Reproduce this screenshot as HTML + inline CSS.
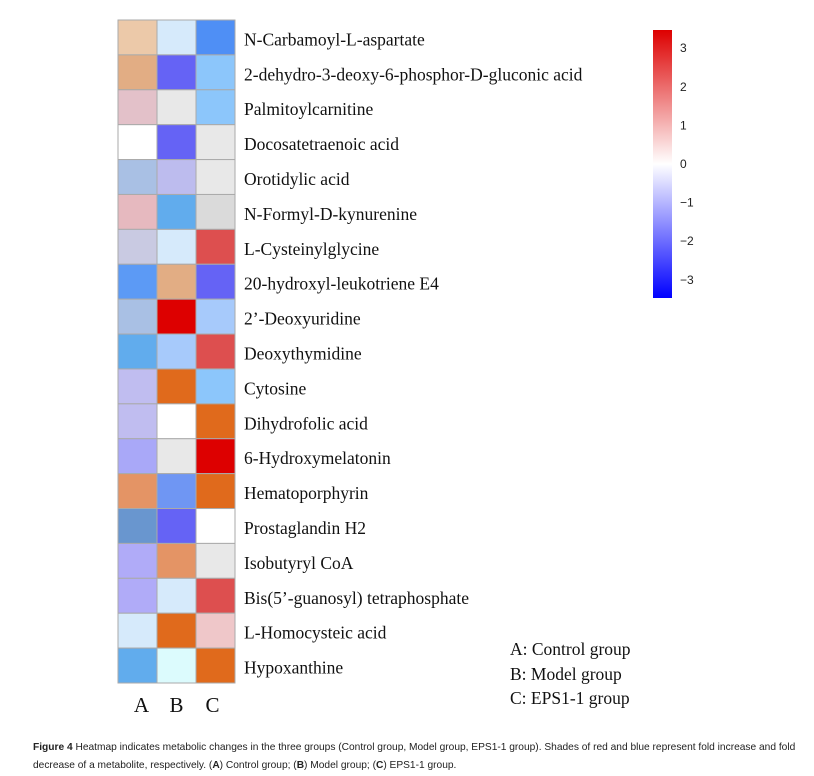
<!DOCTYPE html>
<html><head><meta charset="utf-8"><style>
body{margin:0;background:#fff;width:814px;height:776px;overflow:hidden;}
svg{display:block}
.lab{font-family:"Liberation Serif",serif;font-size:17.5px;fill:#111}
.tick{font-family:"Liberation Sans",sans-serif;font-size:12px;fill:#222}
.cap{font-family:"Liberation Sans",sans-serif;font-size:10.2px;fill:#222}
</style></head><body>
<svg id="chart" width="814" height="776">
<defs><linearGradient id="cb" x1="0" y1="0" x2="0" y2="1">
<stop offset="0" stop-color="#dd0000"/><stop offset="0.5" stop-color="#ffffff"/><stop offset="1" stop-color="#0000ff"/></linearGradient></defs>
<g id="cells"></g>
<g id="labels"></g>
<g id="cols"></g>
<g>
<rect x="653" y="30" width="19" height="268" fill="url(#cb)"/>
<g id="cbticks"></g>
</g>
<g>
<text class="lab" x="510" y="655">A: Control group</text>
<text class="lab" x="510" y="680">B: Model group</text>
<text class="lab" x="510" y="704">C: EPS1-1 group</text>
</g>
<text class="cap" x="33" y="750"><tspan font-weight="bold">Figure 4</tspan> Heatmap indicates metabolic changes in the three groups (Control group, Model group, EPS1-1 group). Shades of red and blue represent fold increase and fold</text>
<text class="cap" x="33" y="768">decrease of a metabolite, respectively. (<tspan font-weight="bold">A</tspan>) Control group; (<tspan font-weight="bold">B</tspan>) Model group; (<tspan font-weight="bold">C</tspan>) EPS1-1 group.</text>
</svg>
<script>
const metabolites=["N-Carbamoyl-L-aspartate","2-dehydro-3-deoxy-6-phosphor-D-gluconic acid","Palmitoylcarnitine","Docosatetraenoic acid","Orotidylic acid","N-Formyl-D-kynurenine","L-Cysteinylglycine","20-hydroxyl-leukotriene E4","2’-Deoxyuridine","Deoxythymidine","Cytosine","Dihydrofolic acid","6-Hydroxymelatonin","Hematoporphyrin","Prostaglandin H2","Isobutyryl CoA","Bis(5’-guanosyl) tetraphosphate","L-Homocysteic acid","Hypoxanthine"];
const groups=["A","B","C"];
const colA=["#ecc9a9","#e2ad84","#e3c1c9","#ffffff","#a9c0e4","#e6b9bf","#c9cae2","#5c9af5","#a9c0e4","#61aced","#c0bdf0","#c0bdf0","#a9a8f8","#e49465","#6996cf","#b0abf8","#b0abf8","#d6eafb","#61aced"];
const colB=["#d6eafb","#6563f5","#e8e8e8","#6563f5","#bdbcee","#61aced","#d6eafb","#e2ad84","#dd0000","#a7cafb","#e06a1c","#ffffff","#e8e8e8","#6f96f3","#6563f5","#e49465","#d6eafb","#e06a1c","#dcfbfd"];
const colC=["#4f8ff5","#8cc6fb","#8cc6fb","#e8e8e8","#e8e8e8","#dadada","#dd4f4f","#6563f5","#a7cafb","#dd4f4f","#8cc6fb","#e06a1c","#dd0000","#e06a1c","#ffffff","#e8e8e8","#dd4f4f","#efc7c9","#e06a1c"];
const cbTicks=[3,2,1,0,-1,-2,-3];
const NS="http://www.w3.org/2000/svg";
const x0=118,x1=235,y0=20,y1=683;
const cw=(x1-x0)/groups.length, rh=(y1-y0)/metabolites.length;
const xs=i=>x0+i*cw, ys=j=>y0+j*rh;
const cbY=v=>164-v*38.6;
const cols=[colA,colB,colC];
function mk(tag,attrs,parent){const e=document.createElementNS(NS,tag);for(const k in attrs)e.setAttribute(k,attrs[k]);parent.appendChild(e);return e;}
const gc=document.getElementById('cells'),gl=document.getElementById('labels'),gx=document.getElementById('cols'),gt=document.getElementById('cbticks');
metabolites.forEach((m,j)=>{
  cols.forEach((arr,i)=>{
    const r=mk('rect',{x:xs(i),y:ys(j),width:cw,height:rh,fill:arr[j],stroke:'#aaa','stroke-width':1},gc);
    
    
  });
  const t=mk('text',{x:244,y:ys(j)+rh/2+8,class:'lab'},gl);
  t.textContent=m;
  
  
});
groups.forEach((g,i)=>{
  const t=mk('text',{x:xs(i)+cw/2+(i==0?4:i==1?0:-3),y:712,class:'lab','text-anchor':'middle'},gx);
  t.setAttribute('style','font-size:21px');
  t.textContent=g;
  
  
});
cbTicks.forEach(v=>{
  const t=mk('text',{x:680,y:cbY(v)+4,class:'tick'},gt);
  t.textContent=v<0?'\u2212'+(-v):String(v);
  
  
});
</script>
</body></html>
